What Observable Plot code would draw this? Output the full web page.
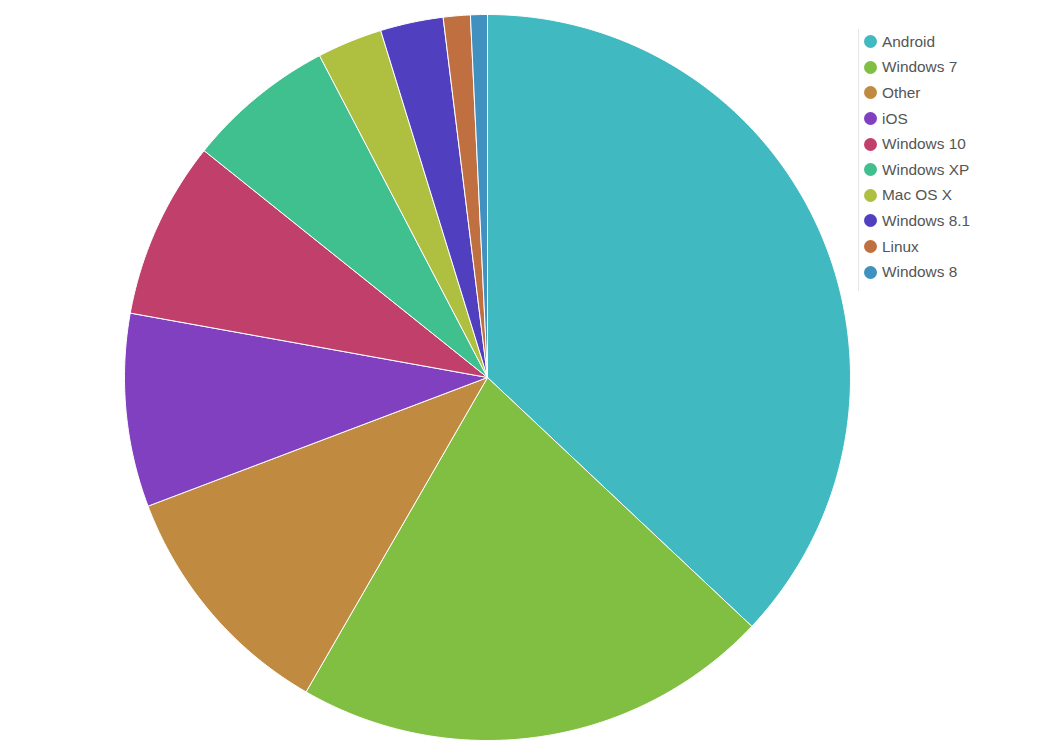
<!DOCTYPE html>
<html>
<head>
<meta charset="utf-8">
<script src="https://cdn.jsdelivr.net/npm/d3@7"></script>
<script src="https://cdn.jsdelivr.net/npm/@observablehq/plot@0.6"></script>
<style>
  html, body { margin: 0; padding: 0; background: #fff; }
  #wrap { position: relative; width: 1050px; height: 756px; }
  #legend { position: absolute; left: 858px; top: 29px; border-left: 1px solid #e6e6e6; padding: 0 0 6px 0;
            font-family: "Liberation Sans", Arial, sans-serif; font-size: 15.4px; color: #555; }
  .item { display: flex; align-items: center; height: 25.6px; }
  .sw { width: 13px; height: 13px; border-radius: 50%; margin: 0 5px 0 5px; flex: none; }
</style>
</head>
<body>
<div id="wrap"></div>
<script>
const categories = ["Android", "Windows 7", "Other", "iOS", "Windows 10", "Windows XP", "Mac OS X", "Windows 8.1", "Linux", "Windows 8"];
const shares = [37.0, 21.3, 10.9, 8.6, 7.9, 6.6, 2.9, 2.8, 1.2, 0.75];
const colors = ["#41b9c0", "#80bf42", "#c08a40", "#8040c0", "#c0406b", "#40bf8f", "#afbf40", "#5040c0", "#c07040", "#4090c0"];

const data = categories.map((name, i) => ({name, value: shares[i]}));
const arcs = d3.pie().sort(null).value(d => d.value)(data);

// polygon outline of each slice in unit-circle data coordinates
const pts = [];
arcs.forEach(a => {
  const name = a.data.name;
  pts.push({name, x: 0, y: 0});
  const n = Math.max(2, Math.ceil((a.endAngle - a.startAngle) / 0.01));
  for (let k = 0; k <= n; k++) {
    const t = a.startAngle + (a.endAngle - a.startAngle) * k / n;
    pts.push({name, x: Math.sin(t), y: Math.cos(t)});
  }
  pts.push({name, x: 0, y: 0});
});

const color = {domain: categories, range: colors};

const chart = Plot.plot({
  width: 1050,
  height: 756,
  marginLeft: 124,
  marginRight: 200,
  marginTop: 14,
  marginBottom: 16,
  x: {domain: [-1, 1], axis: null},
  y: {domain: [-1, 1], axis: null},
  color,
  marks: [
    Plot.line(pts, {x: "x", y: "y", z: "name", fill: "name", stroke: "#fff", strokeWidth: 1, curve: "linear-closed"})
  ]
});

const wrap = document.getElementById("wrap");
wrap.appendChild(chart);

const scale = chart.scale("color");
const legend = document.createElement("div");
legend.id = "legend";
categories.forEach(c => {
  const it = document.createElement("div");
  it.className = "item";
  const sw = document.createElement("span");
  sw.className = "sw";
  sw.style.background = scale.apply(c);
  const tx = document.createElement("span");
  tx.textContent = c;
  it.appendChild(sw); it.appendChild(tx);
  legend.appendChild(it);
});
wrap.appendChild(legend);
</script>
</body>
</html>
